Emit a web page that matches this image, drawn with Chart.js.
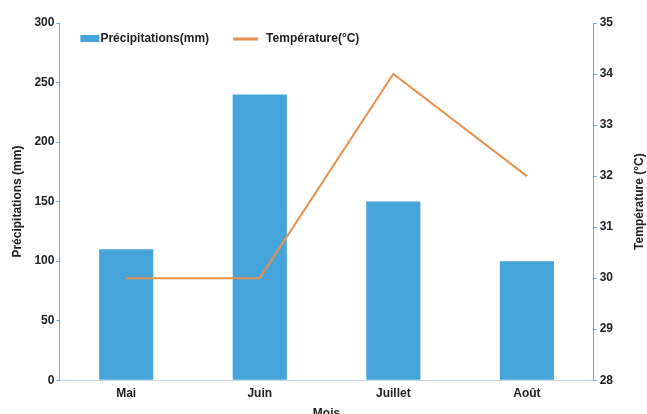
<!DOCTYPE html>
<html>
<head>
<meta charset="utf-8">
<script src="https://cdn.jsdelivr.net/npm/chart.js@4/dist/chart.umd.min.js"></script>
<style>
  body { margin: 0; overflow: hidden; background: #fff; }
  #wrap { width: 647px; height: 421px; }
</style>
</head>
<body>
<div id="wrap"><canvas id="myChart"></canvas></div>
<script>
// data
var mois = ["Mai", "Juin", "Juillet", "Août"];
var precipitations = [110, 240, 150, 100];
var temperature = [30, 30, 34, 32];

var blue = '#45a5da';
var orange = '#e8914f';
var axisBlue = '#5aaee3';
var txt = '#222222';
var fontBold = { family: 'Liberation Sans, Arial, sans-serif', size: 12, weight: 'bold' };
var fontCss = 'bold 12px Liberation Sans, Arial, sans-serif';

// legend inside the plot + right axis title read bottom-to-top
var overlay = {
	id: 'overlay',
	afterDraw: function (chart) {
		var ctx = chart.ctx;
		var ds = chart.data.datasets;
		var area = chart.chartArea;
		ctx.save();
		ctx.font = fontCss;
		ctx.fillStyle = txt;
		ctx.textBaseline = 'middle';
		var y = area.top + 16;
		var x = area.left + 21;
		// bar entry
		ctx.fillStyle = ds[0].backgroundColor;
		ctx.fillRect(x, y - 4, 19, 7);
		ctx.fillStyle = txt;
		ctx.fillText(ds[0].label, x + 20, y);
		x += 20 + ctx.measureText(ds[0].label).width + 24;
		// line entry
		ctx.strokeStyle = ds[1].borderColor;
		ctx.lineWidth = 3;
		ctx.beginPath();
		ctx.moveTo(x, y);
		ctx.lineTo(x + 25, y);
		ctx.stroke();
		ctx.fillText(ds[1].label, x + 33, y);
		// right title
		ctx.translate(chart.width - 7, (area.top + area.bottom) / 2);
		ctx.rotate(-Math.PI / 2);
		ctx.textAlign = 'center';
		ctx.fillText('Température (°C)', 0, 0);
		ctx.restore();
	}
};

var el = document.getElementById('myChart');
var myChart = new Chart(el, {
	type: 'bar',
	data: {
		labels: mois,
		datasets: [{
			type: 'bar',
			label: 'Précipitations(mm)',
			data: precipitations,
			backgroundColor: blue,
			borderWidth: 0,
			categoryPercentage: 1,
			barPercentage: 0.405,
			yAxisID: 'y',
			order: 2
		}, {
			type: 'line',
			label: 'Température(°C)',
			data: temperature,
			borderColor: orange,
			backgroundColor: orange,
			borderWidth: 2,
			pointRadius: 0,
			tension: 0,
			yAxisID: 'y1',
			order: 1
		}]
	},
	plugins: [overlay],
	options: {
		responsive: true,
		maintainAspectRatio: false,
		animation: false,
		layout: { padding: { top: 23, left: 10, right: 31, bottom: 0 } },
		plugins: {
			tooltip: { enabled: false },
			legend: { display: false }
		},
		scales: {
			x: {
				grid: { display: false, drawTicks: false },
				border: { display: true, color: '#c9d7e6', width: 1 },
				ticks: { color: txt, font: fontBold, padding: 6 },
				title: { display: true, text: 'Mois', color: txt, font: fontBold, padding: { top: 0, bottom: 0 } }
			},
			y: {
				position: 'left',
				min: 0,
				max: 300,
				ticks: { stepSize: 50, color: txt, font: fontBold, padding: 2 },
				grid: { drawOnChartArea: false, drawTicks: true, tickLength: 3, color: axisBlue },
				border: { display: true, color: axisBlue, width: 1 },
				title: { display: true, text: 'Précipitations (mm)', color: txt, font: fontBold, padding: { top: 0, bottom: 8 } }
			},
			y1: {
				position: 'right',
				min: 28,
				max: 35,
				ticks: { stepSize: 1, color: txt, font: fontBold, padding: 3 },
				grid: { drawOnChartArea: false, drawTicks: true, tickLength: 3, color: axisBlue },
				border: { display: true, color: axisBlue, width: 1 }
			}
		}
	}
});
</script>
</body>
</html>
